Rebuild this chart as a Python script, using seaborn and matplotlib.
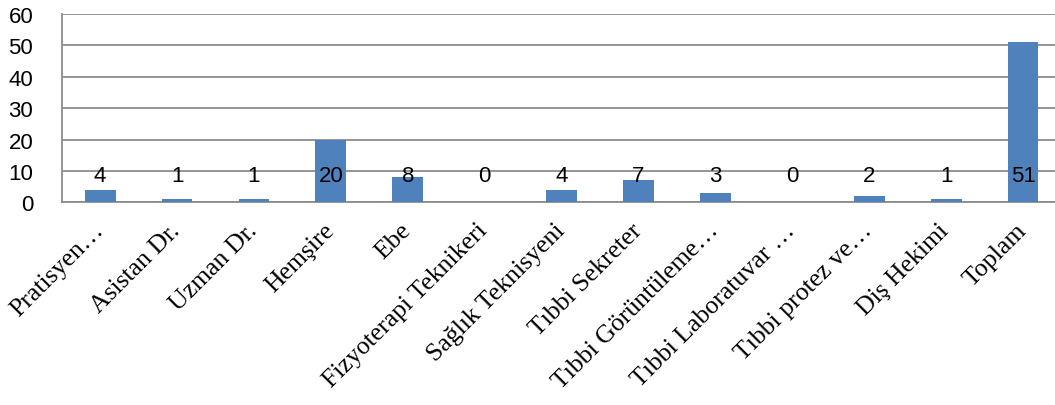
import matplotlib
matplotlib.use("Agg")
import matplotlib.pyplot as plt
import matplotlib.transforms as mtrans
import seaborn as sns
import pandas as pd

categories = ["Pratisyen…", "Asistan Dr.", "Uzman Dr.", "Hemşire", "Ebe",
              "Fizyoterapi Teknikeri", "Sağlık Teknisyeni", "Tıbbi Sekreter",
              "Tıbbi Görüntüleme…", "Tıbbi Laboratuvar …", "Tıbbi protez ve…",
              "Diş Hekimi", "Toplam"]
values = [4, 1, 1, 20, 8, 0, 4, 7, 3, 0, 2, 1, 51]
y_ticks = [0, 10, 20, 30, 40, 50, 60]

df = pd.DataFrame({"cat": categories, "val": values})

sns.set_style("white")
fig = plt.figure(figsize=(10.55, 4.06), dpi=100)
ax = fig.add_axes([61.7 / 1055, 1 - 203.3 / 406, 999.8 / 1055, 188.3 / 406])

sns.barplot(data=df, x="cat", y="val", color="#4F81BD", width=0.4,
            saturation=1, ax=ax, zorder=3, linewidth=0)

ax.set_ylim(0, 60)
ax.set_xlim(-0.5, len(categories) - 0.5)
ax.set_yticks(y_ticks)
ax.set_yticklabels([str(t) for t in y_ticks], fontfamily="Liberation Sans", fontsize=16,
                   color="black")
ax.set_xlabel("")
ax.set_ylabel("")
ax.yaxis.grid(True, color="#8C8C8C", linewidth=1.3, zorder=0)
ax.set_axisbelow(True)

for s in ["top", "right"]:
    ax.spines[s].set_visible(False)
for s in ["left", "bottom"]:
    ax.spines[s].set_color("#8C8C8C")
    ax.spines[s].set_linewidth(1.3)

ax.set_xticks([i - 0.5 for i in range(len(categories) + 1)], minor=False)
ax.set_xticklabels([])
ax.set_xticks(range(len(categories)), minor=True)
ax.tick_params(axis="x", which="major", length=7, width=1.3, color="#8C8C8C", direction="out")
ax.tick_params(axis="x", which="minor", length=0, pad=12)
ax.tick_params(axis="y", length=8.5, width=1.3, color="#8C8C8C", direction="out", pad=12)
ax.set_xticklabels(categories, minor=True, rotation=45, ha="right", va="top",
                   rotation_mode="anchor", fontfamily="Liberation Serif", fontsize=18.5,
                   color="black")

offset = mtrans.ScaledTranslation(-8 / 100, 0, fig.dpi_scale_trans)
for lab in ax.get_xticklabels(minor=True):
    lab.set_transform(lab.get_transform() + offset)

for i, v in enumerate(values):
    ax.text(i, 8.4, str(v), ha="center", va="center", fontsize=16,
            fontfamily="Liberation Sans", color="black", zorder=5)

fig.savefig("out.png", dpi=100)
